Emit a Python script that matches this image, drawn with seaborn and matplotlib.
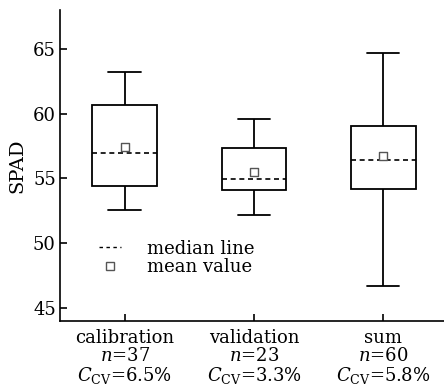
import numpy as np
import pandas as pd
import seaborn as sns
import matplotlib
matplotlib.use("Agg")
import matplotlib.pyplot as plt
from matplotlib.lines import Line2D

groups = ["calibration", "validation", "sum"]
whisker_low = [52.6, 52.17, 46.67]
q1 = [54.4, 54.13, 54.18]
median = [57.0, 54.92, 56.39]
q3 = [60.7, 57.34, 59.01]
whisker_high = [63.25, 59.58, 64.69]
mean = [57.44, 55.51, 56.72]
n_samples = [37, 23, 60]
cv = ["6.5%", "3.3%", "5.8%"]
yticks = [45, 50, 55, 60, 65]

sns.set_style("ticks")
plt.rcParams["font.family"] = ["DejaVu Serif"]
plt.rcParams["mathtext.fontset"] = "dejavuserif"
plt.rcParams["text.color"] = "black"
plt.rcParams["axes.labelcolor"] = "black"
plt.rcParams["xtick.color"] = "black"
plt.rcParams["ytick.color"] = "black"
plt.rcParams["axes.edgecolor"] = "black"

rows = []
for g, a, b, c, d, e in zip(groups, whisker_low, q1, median, q3, whisker_high):
    for v in (a, b, c, d, e):
        rows.append({"group": g, "value": v})
df = pd.DataFrame(rows)

fig = plt.figure(figsize=(4.44, 3.88), dpi=100)
ax = fig.add_axes([60/444, 67/388, 384/444, 311/388])

lw = 1.3
dash = (0, (3, 2.2))
sns.boxplot(data=df, x="group", y="value", order=groups, whis=(0, 100), width=0.5,
            color="white", linecolor="black", linewidth=lw, ax=ax,
            medianprops=dict(linestyle=dash, color="black", linewidth=1.2))
mdf = pd.DataFrame({"group": groups, "mean": mean})
sns.scatterplot(data=mdf, x="group", y="mean", marker="s", s=36, facecolor="white",
                edgecolor="#555555", linewidth=1.0, ax=ax, zorder=5)

ax.set_xlim(-0.5, 2.47)
ax.set_ylim(44, 68)
ax.set_yticks(yticks)
ax.set_ylabel("SPAD", fontsize=14, labelpad=5)
ax.set_xlabel("")
labels = [f"{g}\n$n$={n}\n$C_{{\\rm CV}}$={c}" for g, n, c in zip(groups, n_samples, cv)]
ax.set_xticks(range(len(groups)))
ax.set_xticklabels(labels, fontsize=13, linespacing=1.0)
ax.tick_params(axis="x", direction="in", length=5, width=1.2, labelsize=13, pad=6)
ax.tick_params(axis="y", direction="in", length=5, width=1.2, labelsize=13, pad=3)
for s in ["top", "right"]:
    ax.spines[s].set_visible(False)
for s in ["left", "bottom"]:
    ax.spines[s].set_linewidth(1.2)

handles = [Line2D([], [], color="black", linestyle=(0, (2.5, 2.5)), linewidth=1.0),
           Line2D([], [], marker="s", linestyle="none", markersize=6,
                  markerfacecolor="white", markeredgecolor="#555555")]
ax.legend(handles, ["median line", "mean value"], loc="upper left",
          bbox_to_anchor=(0.082, 0.285), frameon=False, fontsize=13,
          handlelength=1.25, handletextpad=1.4, labelspacing=0.05, borderaxespad=0)

fig.savefig("out.png", dpi=100)
